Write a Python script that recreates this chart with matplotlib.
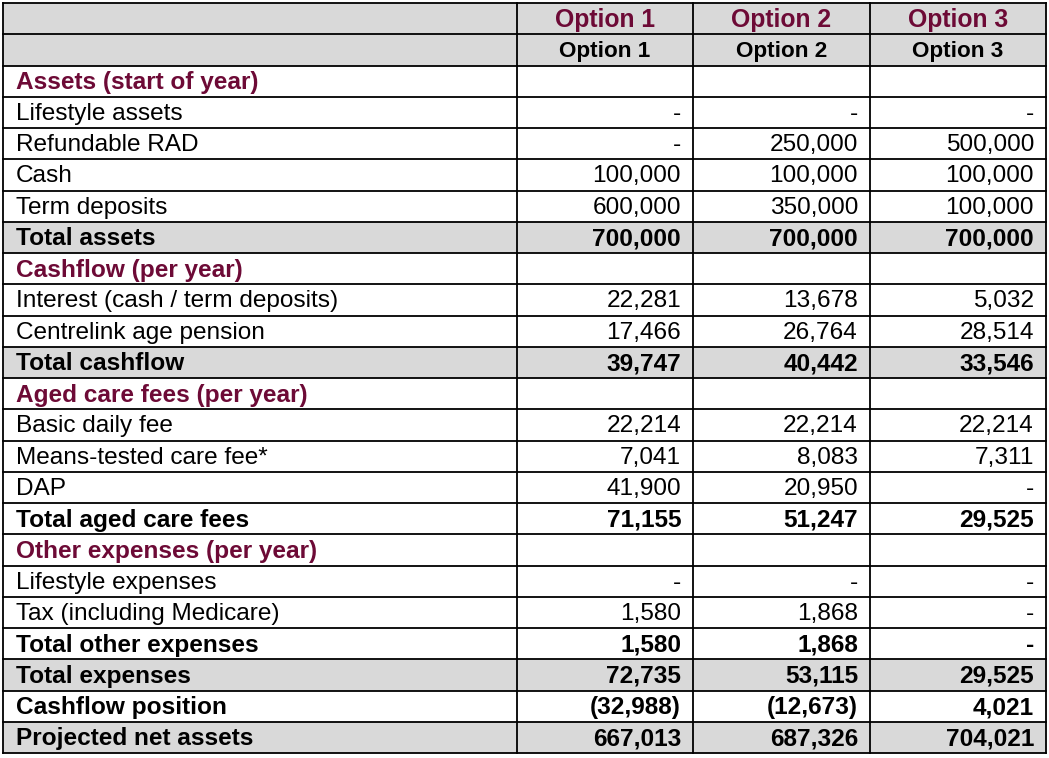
import matplotlib
matplotlib.use('Agg')
import matplotlib.pyplot as plt
from matplotlib.patches import Rectangle

# Zeilen der Tabelle: (Bezeichnung, Werte, Stil)
labels = [
    "", "",
    "Assets (start of year)", "Lifestyle assets", "Refundable RAD", "Cash", "Term deposits", "Total assets",
    "Cashflow (per year)", "Interest (cash / term deposits)", "Centrelink age pension", "Total cashflow",
    "Aged care fees (per year)", "Basic daily fee", "Means-tested care fee*", "DAP", "Total aged care fees",
    "Other expenses (per year)", "Lifestyle expenses", "Tax (including Medicare)", "Total other expenses",
    "Total expenses", "Cashflow position", "Projected net assets",
]
option1 = ["Option 1", "Option 1", "", "-", "-", "100,000", "600,000", "700,000",
           "", "22,281", "17,466", "39,747",
           "", "22,214", "7,041", "41,900", "71,155",
           "", "-", "1,580", "1,580", "72,735", "(32,988)", "667,013"]
option2 = ["Option 2", "Option 2", "", "-", "250,000", "100,000", "350,000", "700,000",
           "", "13,678", "26,764", "40,442",
           "", "22,214", "8,083", "20,950", "51,247",
           "", "-", "1,868", "1,868", "53,115", "(12,673)", "687,326"]
option3 = ["Option 3", "Option 3", "", "-", "500,000", "100,000", "100,000", "700,000",
           "", "5,032", "28,514", "33,546",
           "", "22,214", "7,311", "-", "29,525",
           "", "-", "-", "-", "29,525", "4,021", "704,021"]
# Stil: h1 = Kopf rot, h2 = Kopf schwarz, sec = Abschnitt, n = normal, t = fett grau, b = fett weiss
styles = ["h1", "h2", "sec", "n", "n", "n", "n", "t",
          "sec", "n", "n", "t",
          "sec", "n", "n", "n", "b",
          "sec", "n", "n", "b", "t", "b", "t"]

maroon = "#6d0a36"
grey = "#d9d9d9"
plt.rcParams['font.family'] = ['Liberation Sans', 'DejaVu Sans']

W, H = 1049, 758
fig = plt.figure(figsize=(W / 100, H / 100), dpi=100)
ax = fig.add_axes([0, 0, 1, 1])
ax.set_xlim(0, W)
ax.set_ylim(H, 0)
ax.axis('off')

top = 3
col_x = [3, 517, 693, 870, 1046]
row_h = 31.25
n_rows = len(labels)
bottom = top + n_rows * row_h
fs = 17.6

for i, (lab, st) in enumerate(zip(labels, styles)):
    y0 = top + i * row_h
    yc = y0 + row_h / 2 + 1.5
    if st in ("h1", "h2", "t"):
        ax.add_patch(Rectangle((col_x[0], y0), col_x[-1] - col_x[0], row_h,
                               facecolor=grey, edgecolor='none', zorder=0))
    weight = 'normal' if st == "n" else 'bold'
    lab_color = maroon if st == "sec" else 'black'
    if lab:
        ax.text(col_x[0] + 13, yc, lab, ha='left', va='center', fontsize=fs,
                fontweight=weight, color=lab_color)
    for j, vals in enumerate([option1, option2, option3]):
        v = vals[i]
        if not v:
            continue
        if st in ("h1", "h2"):
            xc = (col_x[j + 1] + col_x[j + 2]) / 2
            ax.text(xc, yc, v, ha='center', va='center',
                    fontsize=17.8 if st == "h1" else 16.2,
                    fontweight='bold', color=maroon if st == "h1" else 'black')
        else:
            ax.text(col_x[j + 2] - 12, yc, v, ha='right', va='center', fontsize=fs,
                    fontweight=weight, color='black')

# Gitterlinien
for i in range(n_rows + 1):
    y = top + i * row_h
    ax.plot([col_x[0], col_x[-1]], [y, y], color='black', lw=1.3, zorder=3)
for x in col_x:
    ax.plot([x, x], [top, bottom], color='black', lw=1.3, zorder=3)

fig.savefig("out.png", dpi=100)
